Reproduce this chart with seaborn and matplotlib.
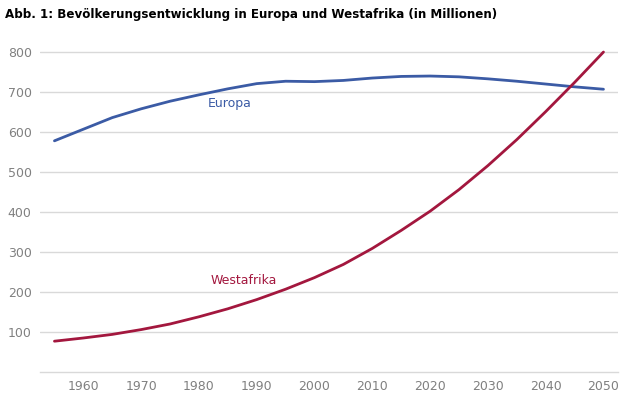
import pandas as pd
import seaborn as sns
import matplotlib.pyplot as plt

# data (Millionen)
years = list(range(1955, 2051, 5))
europa = [578, 607, 636, 658, 677, 693, 708, 721, 727, 726,
          729, 735, 739, 740, 738, 733, 727, 720, 713, 707]
westafrika = [77, 85, 94, 106, 120, 138, 158, 181, 207, 236,
              269, 309, 354, 402, 456, 516, 581, 651, 724, 800]
x_ticks = list(range(1960, 2051, 10))
y_ticks = list(range(100, 801, 100))

blue = '#3b5ba5'
red = '#a3173e'
grey = '#808080'

df = pd.DataFrame({'Jahr': years * 2,
                   'Wert': europa + westafrika,
                   'Region': ['Europa'] * len(years) + ['Westafrika'] * len(years)})

sns.set_style('white')
plt.rcParams['font.family'] = ['DejaVu Sans']

fig = plt.figure(figsize=(6.4, 3.99), dpi=100)
ax = fig.add_axes([0.0625, 0.0677, 0.903, 0.852])

sns.lineplot(data=df, x='Jahr', y='Wert', hue='Region',
             palette={'Europa': blue, 'Westafrika': red},
             linewidth=2.0, legend=False, ax=ax)

ax.set_xlim(1952.5, 2052.5)
ax.set_ylim(0, 850)
ax.set_xticks(x_ticks)
ax.set_yticks(y_ticks)
ax.set_xlabel('')
ax.set_ylabel('')
ax.tick_params(axis='both', length=0, labelsize=9, labelcolor=grey)
ax.tick_params(axis='y', pad=6)
ax.tick_params(axis='x', pad=6)
ax.grid(axis='y', color='#d9d9d9', linewidth=1)
ax.set_axisbelow(True)
for s in ['top', 'right', 'left']:
    ax.spines[s].set_visible(False)
ax.spines['bottom'].set_color('#d9d9d9')
ax.spines['bottom'].set_linewidth(1)

ax.text(1981.5, 672, 'Europa', color=blue, fontsize=9, va='center', ha='left')
ax.text(1982, 229, 'Westafrika', color=red, fontsize=9, va='center', ha='left')

fig.text(0.008, 0.963, 'Abb. 1: Bevölkerungsentwicklung in Europa und Westafrika (in Millionen)',
         fontsize=8.6, fontweight='bold', color='black', va='center', ha='left')

fig.savefig('out.png', dpi=100)
